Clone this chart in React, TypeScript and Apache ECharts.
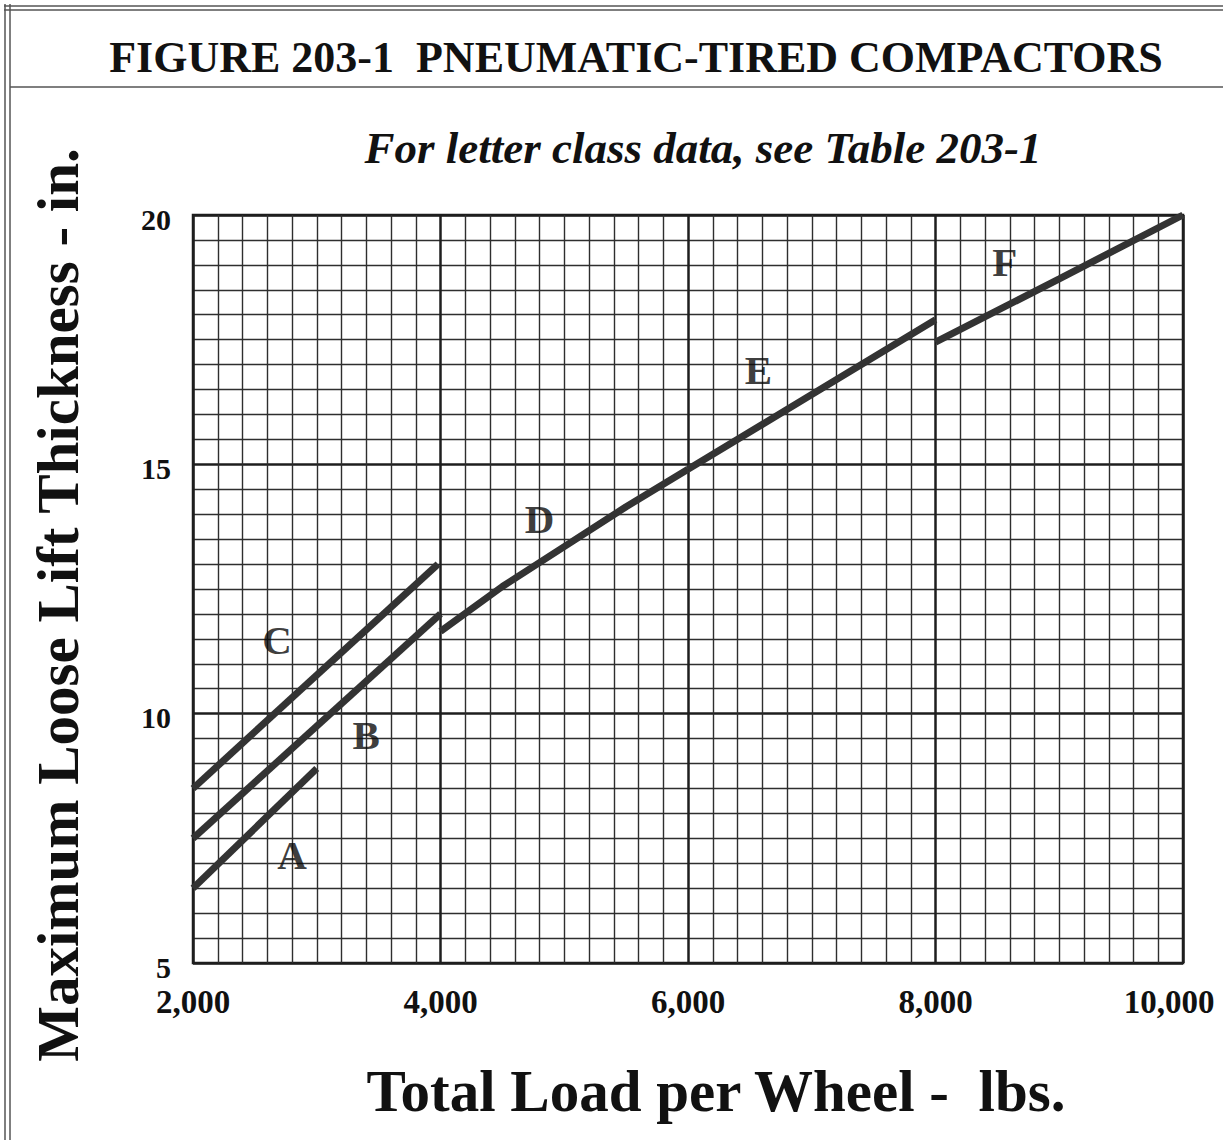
import React, { useEffect, useRef } from "react";
import * as echarts from "echarts";

const FONT = '"Liberation Serif", "Times New Roman", Times, serif';

// Curve data (load lbs, lift thickness in.)
const loadA = [2000, 3000];
const liftA = [6.5, 8.9];
const loadB = [2000, 4000];
const liftB = [7.5, 12.0];
const loadC = [2000, 3980];
const liftC = [8.5, 13.0];
const loadD = [4000, 4500, 5000, 5500, 6000];
const liftD = [11.65, 12.55, 13.35, 14.15, 14.9];
const loadE = [6000, 7000, 8000];
const liftE = [14.9, 16.4, 17.9];
const loadF = [8000, 9000, 10000];
const liftF = [17.45, 18.72, 20.0];

// Letter class labels
const classNames = ["A", "B", "C", "D", "E", "F"];
const classLoad = [2800, 3400, 2680, 4800, 6570, 8560];
const classLift = [7.17, 9.58, 11.47, 13.9, 16.9, 19.06];

// Axis ticks
const xTicks = [2000, 4000, 6000, 8000, 10000];
const yTicks = [5, 10, 15, 20];

const TITLE = "FIGURE 203-1\u00a0\u00a0PNEUMATIC-TIRED COMPACTORS";
const SUBTITLE = "For letter class data, see Table 203-1";
const X_NAME = "Total Load per Wheel -\u00a0\u00a0lbs.";
const Y_NAME = "Maximum Loose Lift Thickness - in.";

const pairs = (xs: number[], ys: number[]) => xs.map((x, i) => [x, ys[i]]);

export default function App() {
  const ref = useRef<HTMLDivElement>(null);
  useEffect(() => {
    if (!ref.current) return;
    const chart = echarts.init(ref.current, null, { renderer: "svg" });
    const curve = (name: string, xs: number[], ys: number[]) => ({
      type: "line",
      name,
      data: pairs(xs, ys),
      showSymbol: false,
      symbol: "none",
      lineStyle: { color: "#333333", width: 7, cap: "butt" },
      z: 3,
    });
    const line = (x1: number, y1: number, x2: number, y2: number) => ({
      type: "line",
      shape: { x1, y1, x2, y2 },
      style: { stroke: "#555", lineWidth: 1.5 },
      silent: true,
    });
    chart.setOption({
      animation: false,
      backgroundColor: "#ffffff",
      textStyle: { fontFamily: FONT },
      grid: {
        left: 193,
        right: 40,
        top: 215,
        bottom: 177,
        show: true,
        borderColor: "#1e1e1e",
        borderWidth: 2.5,
        backgroundColor: "transparent",
      },
      xAxis: {
        type: "value",
        min: xTicks[0],
        max: xTicks[xTicks.length - 1],
        interval: 2000,
        axisLine: { show: false },
        axisTick: { show: false },
        minorTick: { show: false, splitNumber: 10 },
        splitLine: { show: true, lineStyle: { color: "#1e1e1e", width: 2.5 } },
        minorSplitLine: { show: true, lineStyle: { color: "#2e2e2e", width: 1.4 } },
        axisLabel: {
          margin: 22,
          fontFamily: FONT,
          fontWeight: "bold",
          fontSize: 33,
          color: "#111",
          formatter: (v: number) =>
            v === 10000
              ? "{last|" + v.toLocaleString("en-US") + "}"
              : v.toLocaleString("en-US"),
          rich: {
            last: {
              fontFamily: FONT,
              fontWeight: "bold",
              fontSize: 33,
              color: "#111",
              padding: [0, 28, 0, 0],
            },
          },
        },
      },
      yAxis: {
        type: "value",
        min: yTicks[0],
        max: yTicks[yTicks.length - 1],
        interval: 5,
        axisLine: { show: false },
        axisTick: { show: false },
        minorTick: { show: false, splitNumber: 10 },
        splitLine: { show: true, lineStyle: { color: "#1e1e1e", width: 2.5 } },
        minorSplitLine: { show: true, lineStyle: { color: "#2e2e2e", width: 1.4 } },
        axisLabel: {
          margin: 22,
          fontFamily: FONT,
          fontWeight: "bold",
          fontSize: 30,
          color: "#111",
          verticalAlign: "top",
          lineHeight: 8,
        },
      },
      series: [
        curve("A", loadA, liftA),
        curve("B", loadB, liftB),
        curve("C", loadC, liftC),
        curve("D", loadD, liftD),
        curve("E", loadE, liftE),
        curve("F", loadF, liftF),
        {
          type: "scatter",
          name: "classes",
          symbolSize: 0,
          z: 4,
          data: classNames.map((n, i) => ({ name: n, value: [classLoad[i], classLift[i]] })),
          label: {
            show: true,
            position: "inside",
            formatter: (p: any) => p.name,
            fontFamily: FONT,
            fontWeight: "bold",
            fontSize: 41,
            color: "#0a0a0a",
          },
        },
      ],
      graphic: [
        line(4, 6, 1223, 6),
        line(4, 10, 1223, 10),
        line(5, 4, 5, 1140),
        line(10, 4, 10, 1140),
        line(10, 87, 1223, 87),
        {
          type: "text",
          x: 636,
          y: 57,
          style: {
            text: TITLE,
            fontFamily: FONT,
            fontWeight: "bold",
            fontSize: 44,
            fill: "#111",
            align: "center",
            verticalAlign: "middle",
          },
        },
        {
          type: "text",
          x: 703,
          y: 148,
          style: {
            text: SUBTITLE,
            fontFamily: FONT,
            fontWeight: "bold",
            fontStyle: "italic",
            fontSize: 45,
            fill: "#111",
            align: "center",
            verticalAlign: "middle",
          },
        },
        {
          type: "text",
          x: 716,
          y: 1091,
          style: {
            text: X_NAME,
            fontFamily: FONT,
            fontWeight: "bold",
            fontSize: 59,
            fill: "#111",
            align: "center",
            verticalAlign: "middle",
          },
        },
        {
          type: "text",
          x: 58,
          y: 605,
          rotation: Math.PI / 2,
          style: {
            text: Y_NAME,
            fontFamily: FONT,
            fontWeight: "bold",
            fontSize: 59,
            fill: "#111",
            align: "center",
            verticalAlign: "middle",
          },
        },
      ],
    });
    return () => chart.dispose();
  }, []);
  return (
    <div
      ref={ref}
      style={{ position: "absolute", left: 0, top: 0, width: 1223, height: 1140 }}
    />
  );
}
